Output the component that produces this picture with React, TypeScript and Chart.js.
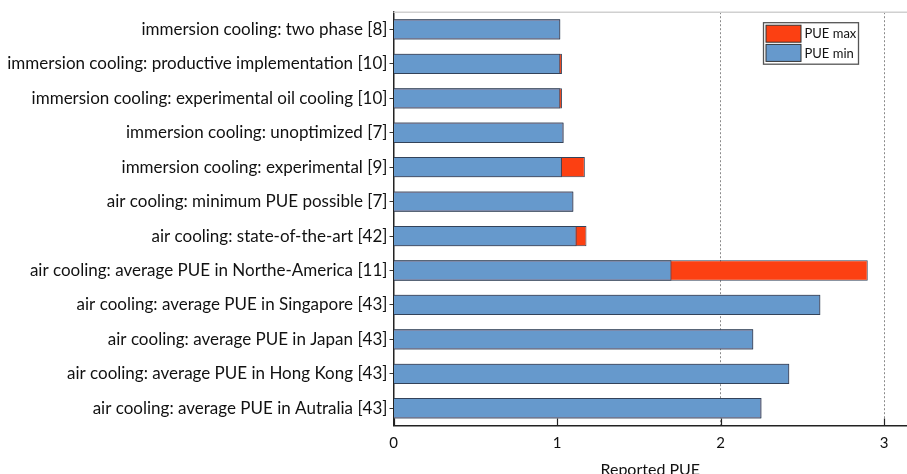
import React, { useEffect, useRef } from "react";
import { Chart, registerables } from "chart.js";

Chart.register(...registerables);

const categories = [
  "immersion cooling: two phase [8]",
  "immersion cooling: productive implementation [10]",
  "immersion cooling: experimental oil cooling [10]",
  "immersion cooling: unoptimized [7]",
  "immersion cooling: experimental [9]",
  "air cooling: minimum PUE possible [7]",
  "air cooling: state-of-the-art [42]",
  "air cooling: average PUE in Northe-America [11]",
  "air cooling: average PUE in Singapore [43]",
  "air cooling: average PUE in Japan [43]",
  "air cooling: average PUE in Hong Kong [43]",
  "air cooling: average PUE in Autralia [43]",
];

const pueMin = [1.02, 1.02, 1.02, 1.04, 1.03, 1.1, 1.12, 1.7, 2.61, 2.2, 2.42, 2.25];
const pueMax = [1.02, 1.03, 1.03, 1.04, 1.17, 1.1, 1.18, 2.9, 2.61, 2.2, 2.42, 2.25];

const xTickValues = [0, 1, 2, 3];
const xAxisTitle = "Reported PUE";

const FONT = "Lato, 'Open Sans', sans-serif";
const BLUE = "#6699cc";
const RED = "#fc4012";
const EDGE = "#33435a";

const framePlugin = {
  id: "frameTicks",
  afterDatasetsDraw(chart: any) {
    const { ctx, chartArea, scales } = chart;
    ctx.save();
    ctx.strokeStyle = "#d0d0d0";
    ctx.lineWidth = 1.5;
    ctx.beginPath();
    ctx.moveTo(chartArea.left, chartArea.top);
    ctx.lineTo(chartArea.right, chartArea.top);
    ctx.stroke();
    ctx.strokeStyle = "#222";
    ctx.lineWidth = 1.2;
    xTickValues.forEach((v) => {
      const px = Math.round(scales.x.getPixelForValue(v)) + 0.5;
      ctx.beginPath();
      ctx.moveTo(px, chartArea.bottom);
      ctx.lineTo(px, chartArea.bottom - 7);
      ctx.stroke();
    });
    ctx.restore();
  },
};

const boxLegendPlugin = {
  id: "boxLegend",
  afterDraw(chart: any) {
    const { ctx, chartArea } = chart;
    const items = [chart.data.datasets[1], chart.data.datasets[0]];
    const w = 95;
    const h = 41.5;
    const x = chartArea.right - 143.5;
    const y = chartArea.top + 10.5;
    ctx.save();
    ctx.fillStyle = "#fff";
    ctx.fillRect(x, y, w, h);
    ctx.strokeStyle = "#555";
    ctx.lineWidth = 1.3;
    ctx.strokeRect(x, y, w, h);
    items.forEach((ds: any, i: number) => {
      const sy = y + 2.5 + i * 19.2;
      ctx.fillStyle = ds.backgroundColor;
      ctx.fillRect(x + 2.5, sy, 35, 17);
      ctx.strokeStyle = "#333";
      ctx.lineWidth = 1;
      ctx.strokeRect(x + 2.5, sy, 35, 17);
      ctx.fillStyle = "#111";
      ctx.font = `13px ${FONT}`;
      ctx.textBaseline = "middle";
      ctx.textAlign = "left";
      ctx.fillText(ds.label, x + 41, sy + 9);
    });
    ctx.restore();
  },
};

export default function App() {
  const ref = useRef<HTMLCanvasElement | null>(null);

  useEffect(() => {
    document.body.style.margin = "0";
    const canvas = ref.current;
    if (!canvas) return;
    const chart = new Chart(canvas, {
      type: "bar",
      data: {
        labels: categories,
        datasets: [
          {
            label: "PUE min",
            data: pueMin,
            backgroundColor: BLUE,
            borderColor: EDGE,
            borderWidth: 1,
            grouped: false,
            categoryPercentage: 1,
            barPercentage: 0.59,
          } as any,
          {
            label: "PUE max",
            data: pueMax,
            backgroundColor: RED,
            borderColor: EDGE,
            borderWidth: 1,
            grouped: false,
            categoryPercentage: 1,
            barPercentage: 0.59,
          } as any,
        ],
      },
      options: {
        indexAxis: "y",
        animation: false,
        responsive: false,
        layout: { padding: { top: 11, right: 0, left: 0, bottom: 0 } },
        plugins: {
          legend: { display: false },
          tooltip: { enabled: false },
        },
        scales: {
          x: {
            type: "linear",
            min: 0,
            max: 3.14,
            afterFit: (scale: any) => {
              scale.height = 48.5;
            },
            ticks: {
              stepSize: 1,
              includeBounds: false,
              color: "#111",
              font: { family: FONT, size: 15 },
              padding: 9,
            },
            grid: {
              drawTicks: false,
              lineWidth: 1,
              color: (c: any) => (c.tick && c.tick.value >= 2 ? "#8a8a8a" : "rgba(0,0,0,0)"),
            },
            border: { color: "#222", width: 1.5, dash: [2, 2] },
            title: {
              display: true,
              text: xAxisTitle,
              color: "#111",
              font: { family: FONT, size: 16 },
              padding: { top: 0, bottom: -5 },
            },
          },
          y: {
            type: "category",
            afterFit: (scale: any) => {
              scale.width = 393.5;
            },
            ticks: {
              color: "#111",
              font: { family: FONT, size: 17 },
              padding: 2,
              autoSkip: false,
            },
            grid: {
              offset: false,
              drawOnChartArea: false,
              tickLength: 4,
              tickColor: "#333",
            },
            border: { color: "#222", width: 1.5 },
          },
        },
      },
      plugins: [framePlugin, boxLegendPlugin],
    });
    return () => chart.destroy();
  }, []);

  return (
    <div style={{ width: 907, height: 474 }}>
      <canvas ref={ref} width={907} height={474} style={{ width: 907, height: 474, display: "block" }} />
    </div>
  );
}
